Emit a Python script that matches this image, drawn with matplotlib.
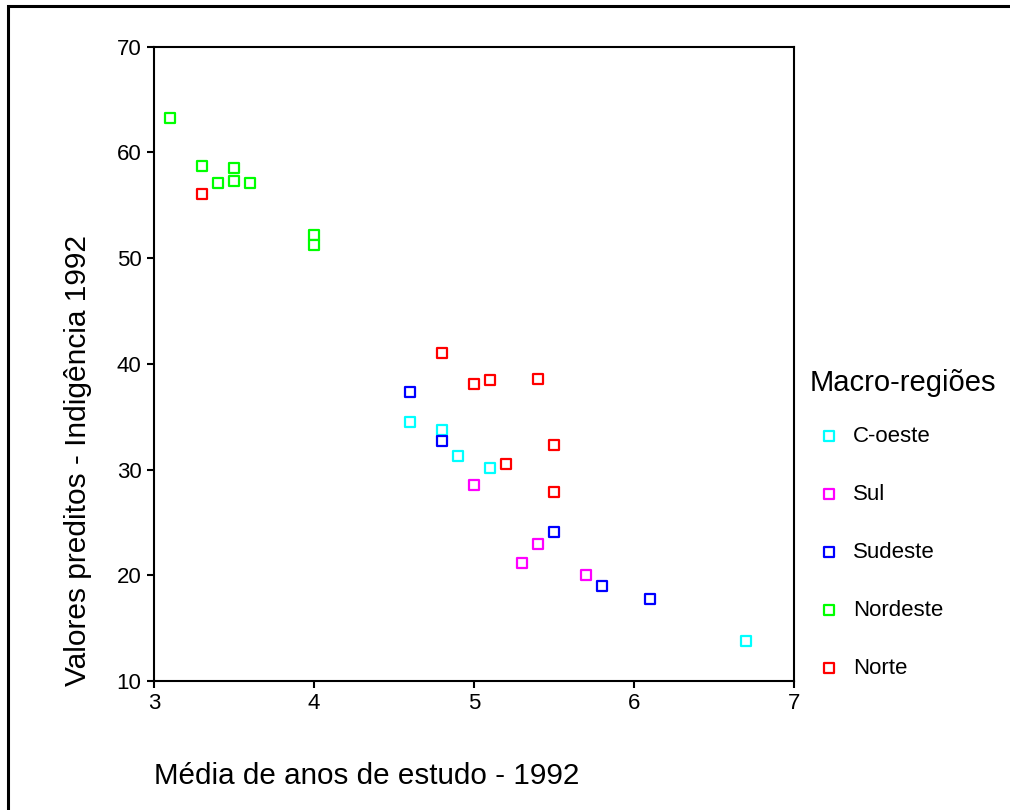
import matplotlib
matplotlib.use("Agg")
import matplotlib.pyplot as plt
from matplotlib.patches import Rectangle

plt.rcParams['font.family'] = ['Liberation Sans', 'DejaVu Sans']

# mean years of schooling vs predicted indigence, 1992, by macro-region
regions = ["C-oeste", "Sul", "Sudeste", "Nordeste", "Norte"]
colors = ["#00ffff", "#ff00ff", "#0000ff", "#00ff00", "#ff0000"]

coeste_x = [4.6, 4.8, 4.9, 5.1, 6.7]
coeste_y = [34.5, 33.7, 31.3, 30.1, 13.8]

sul_x = [5.0, 5.4, 5.3, 5.7]
sul_y = [28.5, 23.0, 21.2, 20.0]

sudeste_x = [4.6, 4.8, 5.5, 5.8, 6.1]
sudeste_y = [37.3, 32.7, 24.1, 19.0, 17.8]

nordeste_x = [3.1, 3.3, 3.4, 3.5, 3.5, 3.6, 4.0, 4.0]
nordeste_y = [63.3, 58.7, 57.1, 58.5, 57.3, 57.1, 52.2, 51.2]

norte_x = [3.3, 4.8, 5.0, 5.1, 5.4, 5.5, 5.2, 5.5]
norte_y = [56.1, 41.0, 38.1, 38.5, 38.6, 32.3, 30.5, 27.9]

series = [(coeste_x, coeste_y), (sul_x, sul_y), (sudeste_x, sudeste_y),
          (nordeste_x, nordeste_y), (norte_x, norte_y)]

fig = plt.figure(figsize=(10.1, 8.1), dpi=100)
ax = fig.add_axes([0.1525, 0.1593, 0.6337, 0.7830])

for (xs, ys), name, col in zip(series, regions, colors):
    ax.scatter(xs, ys, s=42, marker='s', facecolors='white',
               edgecolors=col, linewidths=1.6, label=name, zorder=3)

ax.set_xlim(3, 7)
ax.set_ylim(10, 70)
ax.set_xticks([3, 4, 5, 6, 7])
ax.set_yticks([10, 20, 30, 40, 50, 60, 70])
ax.tick_params(direction='out', length=5, width=1.5, labelsize=16, pad=4)
for sp in ax.spines.values():
    sp.set_linewidth(1.5)

ax.set_ylabel("Valores preditos - Indigência 1992", fontsize=21.5,
              va='center')
ax.yaxis.set_label_coords(-0.119, 0.347)
ax.set_xlabel("Média de anos de estudo - 1992", fontsize=21.3,
              ha='left', va='center')
ax.xaxis.set_label_coords(0.0, -0.1498)

# legend title placed on its own so the gap below it can be set freely
ax.text(1.025, 0.4698, "Macro-regiões", transform=ax.transAxes,
        fontsize=21, ha='left', va='center')
leg = ax.legend(loc='upper left', bbox_to_anchor=(1.012, 0.416), frameon=False,
                fontsize=16, labelspacing=1.665, handlelength=1.62,
                handletextpad=0.27, borderaxespad=0)

# outer frame around the whole figure
fig.add_artist(Rectangle((8 / 1010, -0.1), 1.2, 1.1 - 6 / 810,
                         transform=fig.transFigure, fill=False,
                         edgecolor='black', linewidth=2.2))

fig.savefig("out.png", dpi=100)
